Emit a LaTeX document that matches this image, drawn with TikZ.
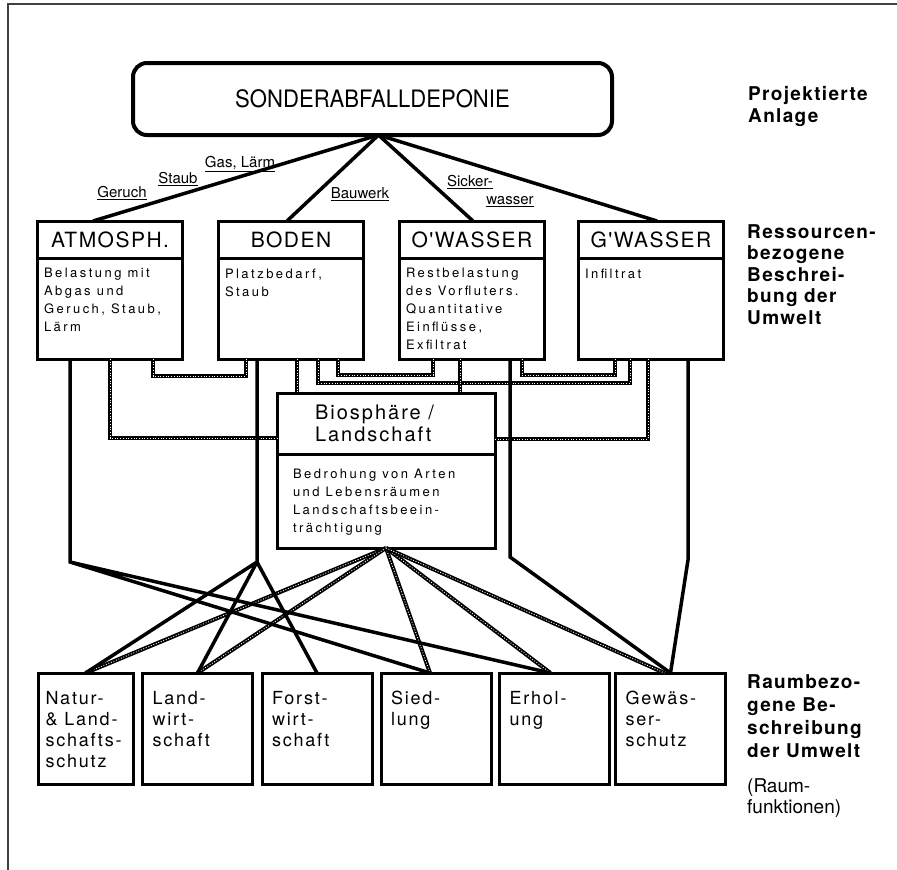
\documentclass[tikz,border=0pt]{standalone}
\usepackage{fontspec}
\setmainfont{TeX Gyre Heros}
\newfontfamily\bodyfont[LetterSpace=19]{TeX Gyre Heros}
\newfontfamily\headfont[LetterSpace=10]{TeX Gyre Heros}
\newfontfamily\titlefont[LetterSpace=7]{TeX Gyre Heros}
\newfontfamily\narrowfont[FakeStretch=0.92]{TeX Gyre Heros}
\tikzset{
	deponie/.style  = {draw, line width=4pt, rounded corners=14pt, outer sep=0pt,
		minimum width=479pt, minimum height=72pt, font=\narrowfont\fontsize{24}{28}\selectfont},
	resource/.style = {draw, line width=3pt, outer sep=0pt, minimum width=145pt,
		minimum height=37pt, font=\titlefont\fontsize{21}{24}\selectfont},
	resbody/.style  = {draw, line width=3pt, outer sep=0pt, anchor=north,
		minimum width=145pt, minimum height=101pt, font=\bodyfont\fontsize{13}{18}\selectfont},
	function/.style = {draw, line width=3pt, outer sep=0pt, anchor=north,
		minimum width=110pt, minimum height=111pt, font=\headfont\fontsize{18}{21}\selectfont},
	sidetext/.style = {anchor=north west, inner sep=0pt, align=left},
	effect/.style   = {inner sep=0pt, font=\fontsize{15}{17}\selectfont},
	link/.style     = {line width=3.5pt},
	hatch/.style    = {line width=4pt, postaction={draw=white, line width=0.9pt,
		dash pattern=on 0.9pt off 1.8pt}}
}
\newcommand{\restext}[1]{\parbox[t][80pt][t]{132pt}{\raggedright #1}}
\newcommand{\fktext}[2][90pt]{\parbox[t][75pt][t]{#1}{\raggedright #2}}

\begin{document}
\begin{tikzpicture}[x=1pt, y=-1pt]
	\useasboundingbox (0,0) rectangle (897,870);
	\draw[line width=1.5pt, black!75] (897,4) -- (8,4) -- (8,870);

	% projected site
	\node[deponie] (dep) at (372.5,99) {SONDERABFALLDEPONIE};
	\node[sidetext, font=\titlefont\bfseries\fontsize{19}{22}\selectfont] (projekt) at (748,86) {Projektierte\\Anlage};

	% resources
	\node[resource] (atm) at (110,239.5) {ATMOSPH.};
	\node[resource] (bod) at (291,239.5) {BODEN};
	\node[resource] (owa) at (472,239.5) {O'WASSER};
	\node[resource] (gwa) at (651,239.5) {G'WASSER};
	\node[resbody] (atmb) at (atm.south) {\restext{Belastung mit\\Abgas und\\Geruch, Staub,\\Lärm}};
	\node[resbody] (bodb) at (bod.south) {\restext{Platzbedarf,\\Staub}};
	\node[resbody] (owab) at (owa.south) {\restext{Restbelastung\\des Vorfluters.\\Quantitative\\Einflüsse,\\Exfiltrat}};
	\node[resbody] (gwab) at (gwa.south) {\restext{Infiltrat}};
	\node[sidetext, font=\titlefont\bfseries\fontsize{19}{21.5}\selectfont] (ressource) at (747,224) {Ressourcen-\\bezogene\\Beschrei-\\bung der\\Umwelt};

	% biosphere
	\node[resource, minimum width=218pt, minimum height=61pt, font=\headfont\fontsize{20}{22}\selectfont] (bio) at (386,423.5) {\parbox{142pt}{\raggedright Biosphäre /\\Landschaft}};
	\node[resbody, minimum width=218pt, minimum height=94pt] (biob) at (bio.south) {\parbox[t][64pt][t]{186pt}{\raggedright Bedrohung von Arten\\und Lebensräumen\\Landschaftsbeein-\\trächtigung}};

	% spatial functions
	\node[function, minimum width=95pt] (nat) at (85.5,673) {\fktext[80pt]{Natur-\\\& Land-\\schafts-\\schutz}};
	\node[function] (lan) at (197.5,673) {\fktext{Land-\\wirt-\\schaft}};
	\node[function] (for) at (317,673) {\fktext{Forst-\\wirt-\\schaft}};
	\node[function] (sie) at (436,673) {\fktext{Sied-\\lung}};
	\node[function] (erh) at (554.5,673) {\fktext{Erhol-\\ung}};
	\node[function] (gew) at (670.5,673) {\fktext{Gewäs-\\ser-\\schutz}};
	\node[sidetext, font=\titlefont\bfseries\fontsize{19}{23}\selectfont] (raum) at (747,674) {Raumbezo-\\gene Be-\\schreibung\\der Umwelt};
	\node[sidetext, font=\fontsize{19}{21}\selectfont] (raumfkt) at (747,778) {(Raum-\\funktionen)};

	% emissions of the site
	\coordinate (apex) at ([xshift=6pt]dep.south);
	\draw[link] (apex) -- ([xshift=-17pt]atm.north);
	\draw[link] (apex) -- ([xshift=-4pt]bod.north);
	\draw[link] (apex) -- ([xshift=1pt]owa.north);
	\draw[link] (apex) -- ([xshift=6pt]gwa.north);
	\node[effect] (geruch) at (122,193) {\underline{Geruch}};
	\node[effect] (staub) at (178,179) {\underline{Staub}};
	\node[effect] (gas) at (240,164) {\underline{Gas, Lärm}};
	\node[effect] (bauwerk) at (360,194) {\underline{Bauwerk}};
	\node[effect] (sicker) at (470,182) {\underline{Sicker-}};
	\node[effect] (wasser) at (510,202) {\underline{wasser}};

	% interactions between resources
	\draw[hatch] ([xshift=43pt]atmb.south) -- ++(0,17) -| ([xshift=-45pt]bodb.south);
	\draw[hatch] ([xshift=47pt]bodb.south) -- ++(0,16) -| ([xshift=-39pt]owab.south);
	\draw[hatch] ([xshift=27pt]bodb.south) -- ++(0,24) -| ([xshift=-21pt]gwab.south);
	\draw[hatch] ([xshift=50pt]owab.south) -- ++(0,16) -| ([xshift=-36pt]gwab.south);
	\draw[hatch] (atmb.south) |- ([yshift=-14.5pt]bio.west);
	\draw[hatch] ([xshift=-3pt]gwab.south) |- ([yshift=-15.5pt]bio.east);
	\draw[hatch] ([xshift=6pt]bodb.south) -- ([xshift=-89pt]bio.north);
	\draw[hatch] ([xshift=-12pt]owab.south) -- ([xshift=74pt]bio.north);

	% biosphere to spatial functions
	\draw[hatch] (biob.south) -- (nat.north);
	\draw[hatch] (biob.south) -- (lan.north);
	\draw[hatch] (biob.south) -- ([xshift=-6pt]sie.north);
	\draw[hatch] (biob.south) -- ([xshift=-4pt]erh.north);
	\draw[hatch] (biob.south) -- ([xshift=-6pt]gew.north);

	% resources to spatial functions
	\coordinate (a1) at (70,562);
	\coordinate (b1) at (257,562);
	\coordinate (o1) at (510,557);
	\coordinate (g1) at (688,560);
	\draw[link] ([xshift=-40pt]atmb.south) -- (a1) -- ([xshift=-6pt]sie.north) (a1) -- ([xshift=-4pt]erh.north);
	\draw[link] ([xshift=-34pt]bodb.south) -- (b1) -- (nat.north) (b1) -- (lan.north) (b1) -- (for.north);
	\draw[link] ([xshift=38pt]owab.south) -- (o1) -- (gew.north);
	\draw[link] ([xshift=37pt]gwab.south) -- (g1) -- (gew.north);
\end{tikzpicture}
\end{document}
